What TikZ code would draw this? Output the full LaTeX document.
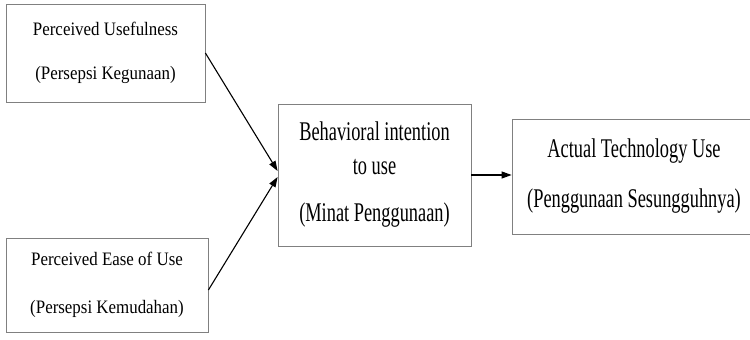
\documentclass[tikz,border=0pt]{standalone}
\usepackage{fontspec}
\setmainfont{Liberation Serif}
\newfontfamily\narrowfont{Liberation Serif}[FakeStretch=0.89]
\newfontfamily\tallfont{Liberation Serif}[FakeStretch=0.68]
\usetikzlibrary{arrows.meta}

\begin{document}
\begin{tikzpicture}[x=1pt, y=1pt,
    box/.style={draw=gray, line width=0.8pt, rectangle, align=center, inner sep=0pt},
    link/.style={-{Triangle[length=10pt, width=7pt]}, line width=1.1pt}]
    \useasboundingbox (0,0) rectangle (750,340);
    % Nodes
    \node[box, minimum width=199pt, minimum height=98pt,
          font=\narrowfont\fontsize{19}{44}\selectfont] (useful) at (105.5,287)
          {Perceived Usefulness\\(Persepsi Kegunaan)};
    \node[box, minimum width=202pt, minimum height=94pt,
          font=\narrowfont\fontsize{19}{48}\selectfont] (ease) at (107,55)
          {Perceived Ease of Use\\(Persepsi Kemudahan)};
    \node[box, minimum width=193pt, minimum height=142pt,
          font=\tallfont\fontsize{27}{34}\selectfont] (intent) at (374.5,165)
          {Behavioral intention\\to use\\[13pt](Minat Penggunaan)};
    \node[box, minimum width=244pt, minimum height=115pt,
          font=\tallfont\fontsize{27}{50}\selectfont] (actual) at (634,163.5)
          {Actual Technology Use\\(Penggunaan Sesungguhnya)};
    % Arrows
    \draw[link] (useful.east) -- ([yshift=4pt]intent.west);
    \draw[link] ([yshift=-5pt]ease.east) -- ([yshift=-2pt]intent.west);
    \draw[link] (intent.east) -- (intent.east -| actual.west);
\end{tikzpicture}
\end{document}
